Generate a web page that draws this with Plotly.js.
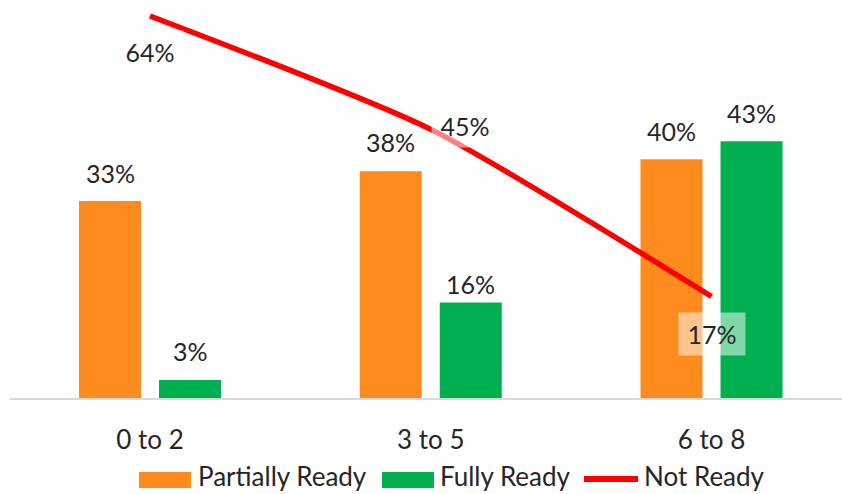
<!DOCTYPE html>
<html>
<head>
<meta charset="utf-8">
<script src="https://cdn.plot.ly/plotly-3.0.1.min.js"></script>
<style>
  html, body { margin: 0; padding: 0; background: #ffffff; }
  #chart { width: 842px; height: 494px; }
</style>
</head>
<body>
<div id="chart"></div>
<script>
// Readiness by age band
const categories = ["0 to 2", "3 to 5", "6 to 8"];
const partiallyReady = [33, 38, 40];
const fullyReady = [3, 16, 43];
const notReady = [64, 45, 17];
const seriesNames = ["Partially Ready", "Fully Ready", "Not Ready"];

const W = 842, H = 494;
const M = { l: 10, r: 0, t: 10, b: 96 };
const plotW = W - M.l - M.r, plotH = H - M.t - M.b;
// convert page pixels to paper coordinates for the hand-built legend
const px = v => (v - M.l) / plotW;
const py = v => (H - M.b - v) / plotH;

const FONT = "Lato, 'Open Sans', sans-serif";
const TEXT = "#262626";
const ORANGE = "#FD8B1E";
const GREEN = "#00B050";
const RED = "#FF0000";

const pct = v => v + "%";

const traces = [
  {
    type: "bar", name: seriesNames[0], x: categories, y: partiallyReady,
    marker: { color: ORANGE }, hoverinfo: "none"
  },
  {
    type: "bar", name: seriesNames[1], x: categories, y: fullyReady,
    marker: { color: GREEN }, hoverinfo: "none"
  },
  {
    type: "scatter", mode: "lines", name: seriesNames[2], x: categories, y: notReady,
    line: { color: RED, width: 5.5, shape: "spline", smoothing: 0.6 },
    cliponaxis: false, hoverinfo: "none"
  }
];

const annotations = [];

// bar value labels above each bar (offset in px, bar slot in px from group centre)
const barSeries = [
  { values: partiallyReady, dx: -40, lift: [28, 29, 28] },
  { values: fullyReady, dx: 40, lift: [29, 18, 28] }
];
barSeries.forEach(s => {
  s.values.forEach((v, i) => {
    annotations.push({
      x: categories[i], y: v, xref: "x", yref: "y",
      text: pct(v), showarrow: false,
      xanchor: "center", yanchor: "middle",
      xshift: s.dx, yshift: s.lift[i],
      font: { family: FONT, size: 25, color: TEXT }
    });
  });
});

// Not Ready value labels, each on a translucent white box
const lineLabelOffsets = [
  { xshift: 0, yshift: -36 },
  { xshift: 34, yshift: 3 },
  { xshift: 0, yshift: -37 }
];
notReady.forEach((v, i) => {
  annotations.push({
    x: categories[i], y: v, xref: "x", yref: "y",
    text: pct(v), showarrow: false,
    xshift: lineLabelOffsets[i].xshift, yshift: lineLabelOffsets[i].yshift,
    font: { family: FONT, size: 25, color: TEXT },
    bgcolor: "rgba(255,255,255,0.5)",
    width: 66, height: 42, borderpad: 0
  });
});

// Legend row under the axis
const legendItems = [
  { kind: "box", color: ORANGE, x0: 139, x1: 191, tx: 196, label: seriesNames[0] },
  { kind: "box", color: GREEN, x0: 382, x1: 434, tx: 438, label: seriesNames[1] },
  { kind: "line", color: RED, x0: 584, x1: 638, tx: 642, label: seriesNames[2] }
];
const legendY = 480;
const legendTextY = 476;
const shapes = [];
legendItems.forEach(it => {
  if (it.kind === "box") {
    shapes.push({
      type: "rect", xref: "paper", yref: "paper",
      x0: px(it.x0), x1: px(it.x1), y0: py(legendY - 8), y1: py(legendY + 8),
      fillcolor: it.color, line: { width: 0 }
    });
  } else {
    shapes.push({
      type: "line", xref: "paper", yref: "paper",
      x0: px(it.x0), x1: px(it.x1), y0: py(legendY - 1), y1: py(legendY - 1),
      line: { color: it.color, width: 6 }
    });
  }
  annotations.push({
    xref: "paper", yref: "paper", x: px(it.tx), y: py(legendTextY),
    xanchor: "left", yanchor: "middle", showarrow: false,
    text: it.label, font: { family: FONT, size: 26, color: TEXT }
  });
});

const layout = {
  width: W, height: H,
  margin: M,
  paper_bgcolor: "#ffffff", plot_bgcolor: "#ffffff",
  showlegend: false,
  barmode: "group", bargap: 0.43, bargroupgap: 0.225,
  font: { family: FONT, color: TEXT },
  xaxis: {
    type: "category", range: [-0.4987, 2.4648],
    showline: true, linecolor: "#D9D9D9", linewidth: 1.5,
    showgrid: false, zeroline: false, ticks: "",
    tickfont: { family: FONT, size: 26, color: TEXT },
    ticklabelstandoff: 18, fixedrange: true
  },
  yaxis: {
    range: [0, 65], visible: false, showgrid: false, zeroline: false, fixedrange: true
  },
  annotations: annotations,
  shapes: shapes
};

Plotly.newPlot("chart", traces, layout, { displayModeBar: false, staticPlot: true });
</script>
</body>
</html>
